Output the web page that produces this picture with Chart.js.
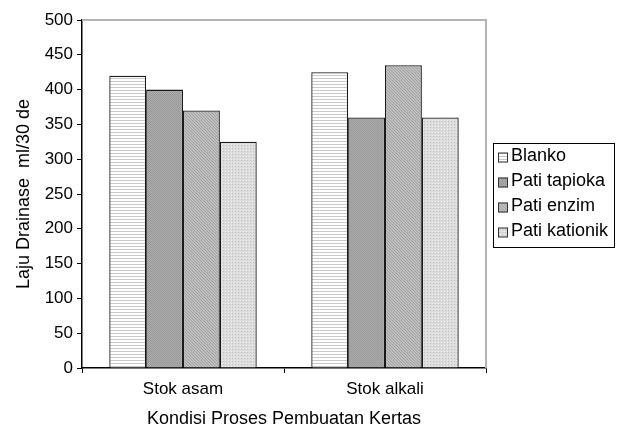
<!DOCTYPE html>
<html>
<head>
<meta charset="utf-8">
<script src="https://cdn.jsdelivr.net/npm/chart.js@4/dist/chart.umd.min.js"></script>
<style>
  html, body { margin: 0; padding: 0; background: #fff; }
  #wrap { width: 618px; height: 430px; }
</style>
</head>
<body>
<div id="wrap"><canvas id="c" width="618" height="430"></canvas></div>
<script>
// Categories, series and axis settings
const categories = ['Stok asam', 'Stok alkali'];
const seriesNames = ['Blanko', 'Pati tapioka', 'Pati enzim', 'Pati kationik'];
const blanko = [420, 425];
const patiTapioka = [400, 360];
const patiEnzim = [370, 435];
const patiKationik = [325, 360];
const yTicks = [0, 50, 100, 150, 200, 250, 300, 350, 400, 450, 500];
const yTitle = 'Laju Drainase  ml/30 de';
const xTitle = 'Kondisi Proses Pembuatan Kertas';

const FONT = "'Liberation Sans', Arial, sans-serif";

// Small tiled fills for the bars
function makePattern(size, paint) {
  const cv = document.createElement('canvas');
  cv.width = size; cv.height = size;
  const g = cv.getContext('2d');
  paint(g, size);
  return g.createPattern(cv, 'repeat');
}

const fillBlanko = makePattern(3, (g, s) => {
  g.fillStyle = '#ffffff'; g.fillRect(0, 0, s, s);
  g.fillStyle = '#c8c8c8'; g.fillRect(0, 0, s, 1);
});
const fillTapioka = makePattern(2, (g, s) => {
  g.fillStyle = '#acacac'; g.fillRect(0, 0, s, s);
  g.fillStyle = '#999999'; g.fillRect(0, 0, 1, 1); g.fillRect(1, 1, 1, 1);
});
const fillEnzim = makePattern(3, (g, s) => {
  g.fillStyle = '#b6b6b6'; g.fillRect(0, 0, s, s);
  g.fillStyle = '#a2a2a2';
  for (let i = 0; i < s; i++) g.fillRect(i, i, 1, 1);
  g.fillStyle = '#c6c6c6';
  for (let i = 0; i < s; i++) g.fillRect((i + 1) % s, i, 1, 1);
});
const fillKationik = makePattern(3, (g, s) => {
  g.fillStyle = '#dcdcdc'; g.fillRect(0, 0, s, s);
  g.fillStyle = '#c2c2c2'; g.fillRect(1, 1, 1, 1);
  g.fillStyle = '#f0f0f0'; g.fillRect(0, 0, 1, 1);
});
const fills = [fillBlanko, fillTapioka, fillEnzim, fillKationik];
const values = [blanko, patiTapioka, patiEnzim, patiKationik];

// Plot frame (grey top and right edge) and boxed legend
const framePlugin = {
  id: 'frameAndLegend',
  afterDatasetsDraw(chart) {
    const { ctx, chartArea: a } = chart;
    ctx.save();
    ctx.strokeStyle = '#b4b4b4';
    ctx.lineWidth = 2;
    ctx.beginPath();
    ctx.moveTo(a.left, a.top);
    ctx.lineTo(a.right, a.top);
    ctx.lineTo(a.right, a.bottom);
    ctx.stroke();
    ctx.restore();
  },
  afterDraw(chart) {
    const { ctx } = chart;
    const box = { x: 493.5, y: 143.5, w: 121, h: 104 };
    ctx.save();
    ctx.strokeStyle = '#000';
    ctx.lineWidth = 1;
    ctx.strokeRect(box.x, box.y, box.w, box.h);
    ctx.font = '18px ' + FONT;
    ctx.textBaseline = 'middle';
    ctx.textAlign = 'left';
    chart.data.datasets.forEach((ds, i) => {
      const cy = box.y + 12 + i * 25;
      ctx.fillStyle = ds.backgroundColor;
      ctx.fillRect(498, cy - 3, 10, 10);
      ctx.strokeStyle = '#333';
      ctx.strokeRect(498.5, cy - 2.5, 9, 9);
      ctx.fillStyle = '#000';
      ctx.fillText(ds.label, 511, cy + 1);
    });
    ctx.restore();
  }
};

new Chart(document.getElementById('c'), {
  type: 'bar',
  data: {
    labels: categories,
    datasets: seriesNames.map((name, i) => ({
      label: name,
      data: values[i],
      backgroundColor: fills[i],
      borderColor: '#1a1a1a',
      borderWidth: 1.3,
      categoryPercentage: 0.73,
      barPercentage: 1.0
    }))
  },
  options: {
    responsive: false,
    animation: false,
    devicePixelRatio: 1,
    layout: { padding: { top: 20, right: 132, left: 0, bottom: 0 } },
    plugins: {
      legend: { display: false },
      tooltip: { enabled: false }
    },
    scales: {
      x: {
        offset: true,
        grid: { offset: true, drawOnChartArea: false, drawTicks: true, tickLength: 5, color: '#000', lineWidth: 1 },
        border: { color: '#000', width: 1.5 },
        ticks: { color: '#000', font: { family: FONT, size: 17 }, padding: 6 },
        title: { display: true, text: xTitle, color: '#000', font: { family: FONT, size: 18 }, padding: { top: 4, bottom: 0 } },
        afterFit(scale) { scale.height = 62; }
      },
      y: {
        min: 0,
        max: 500,
        afterBuildTicks(scale) { scale.ticks = yTicks.map(v => ({ value: v })); },
        grid: { drawOnChartArea: false, drawTicks: true, tickLength: 5, color: '#000', lineWidth: 1 },
        border: { color: '#000', width: 1.5 },
        ticks: { color: '#000', font: { family: FONT, size: 17 }, padding: 4 },
        title: { display: true, text: yTitle, color: '#000', font: { family: FONT, size: 18 }, padding: { top: 13, bottom: 0 } },
        afterFit(scale) { scale.width = 82; }
      }
    }
  },
  plugins: [framePlugin]
});
</script>
</body>
</html>
